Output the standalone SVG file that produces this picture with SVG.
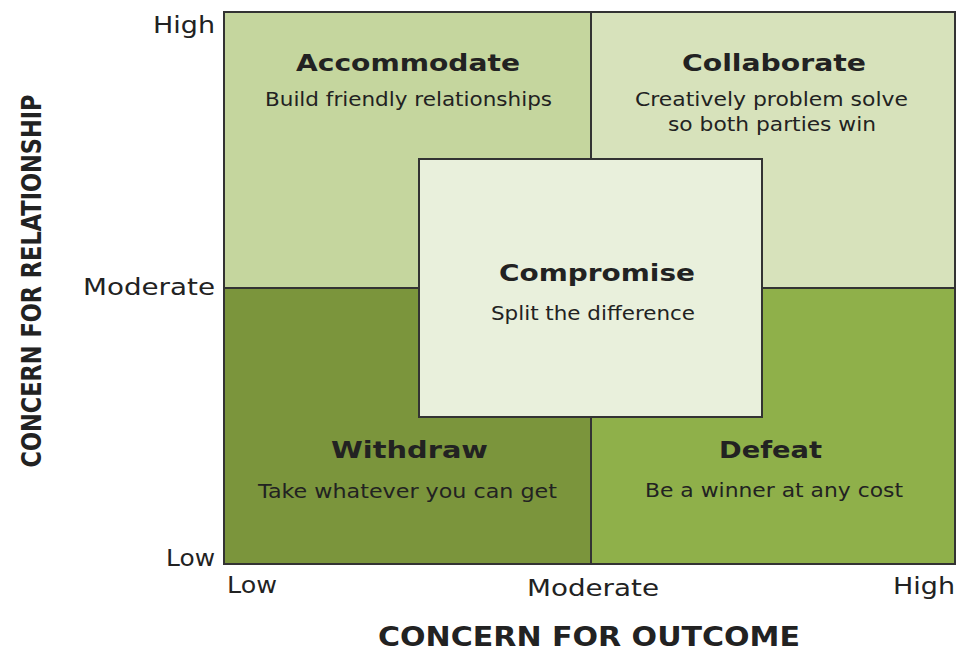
<svg xmlns="http://www.w3.org/2000/svg" width="958" height="653" viewBox="0 0 958 653">
<style>
.q{stroke:#333;stroke-width:2}
.t{font-family:"DejaVu Sans","Liberation Sans",sans-serif;font-weight:bold;font-size:23px;fill:#222;text-anchor:middle}
.s{font-family:"DejaVu Sans","Liberation Sans",sans-serif;font-size:19px;fill:#222;text-anchor:middle}
.a{font-family:"DejaVu Sans","Liberation Sans",sans-serif;font-size:23px;fill:#222}
.ax{font-family:"DejaVu Sans","Liberation Sans",sans-serif;font-weight:bold;font-size:26px;fill:#222;text-anchor:middle}
</style>
<rect width="958" height="653" fill="#fff"/>
<g id="accommodate">
<rect class="q" x="224" y="12" width="367" height="276" fill="#c5d69e"/>
<text class="t" x="408" y="71" textLength="224" lengthAdjust="spacingAndGlyphs">Accommodate</text>
<text class="s" x="408.5" y="106" textLength="287" lengthAdjust="spacingAndGlyphs">Build friendly relationships</text>
</g>
<g id="collaborate">
<rect class="q" x="591" y="12" width="364" height="276" fill="#d7e2bb"/>
<text class="t" x="774" y="71" textLength="184" lengthAdjust="spacingAndGlyphs">Collaborate</text>
<text class="s" x="771.5" y="106" textLength="273" lengthAdjust="spacingAndGlyphs">Creatively problem solve</text>
<text class="s" x="772" y="131" textLength="208" lengthAdjust="spacingAndGlyphs">so both parties win</text>
</g>
<g id="withdraw">
<rect class="q" x="224" y="288" width="367" height="276" fill="#7b953c"/>
<text class="t" x="409.5" y="458" textLength="157" lengthAdjust="spacingAndGlyphs">Withdraw</text>
<text class="s" x="407.5" y="498" textLength="299" lengthAdjust="spacingAndGlyphs">Take whatever you can get</text>
</g>
<g id="defeat">
<rect class="q" x="591" y="288" width="364" height="276" fill="#8fb04a"/>
<text class="t" x="770.5" y="458" textLength="103" lengthAdjust="spacingAndGlyphs">Defeat</text>
<text class="s" x="774" y="497" textLength="258" lengthAdjust="spacingAndGlyphs">Be a winner at any cost</text>
</g>
<g id="compromise">
<rect class="q" x="419" y="159" width="343" height="258" fill="#e9f0dc"/>
<text class="t" x="597" y="281" textLength="196" lengthAdjust="spacingAndGlyphs">Compromise</text>
<text class="s" x="593" y="320" textLength="204" lengthAdjust="spacingAndGlyphs">Split the difference</text>
</g>
<g id="axes">
<text class="a" x="215" y="33" text-anchor="end" textLength="62" lengthAdjust="spacingAndGlyphs">High</text>
<text class="a" x="215" y="295" text-anchor="end" textLength="132" lengthAdjust="spacingAndGlyphs">Moderate</text>
<text class="a" x="215" y="566" text-anchor="end" textLength="49" lengthAdjust="spacingAndGlyphs">Low</text>
<text class="a" x="227" y="593" textLength="50" lengthAdjust="spacingAndGlyphs">Low</text>
<text class="a" x="593" y="596" text-anchor="middle" textLength="132" lengthAdjust="spacingAndGlyphs">Moderate</text>
<text class="a" x="955" y="594" text-anchor="end" textLength="62" lengthAdjust="spacingAndGlyphs">High</text>
<text class="ax" x="589" y="646" textLength="422" lengthAdjust="spacingAndGlyphs">CONCERN FOR OUTCOME</text>
<text class="ax" transform="translate(41,281) rotate(-90)" textLength="373" lengthAdjust="spacingAndGlyphs">CONCERN FOR RELATIONSHIP</text>
</g>
</svg>
